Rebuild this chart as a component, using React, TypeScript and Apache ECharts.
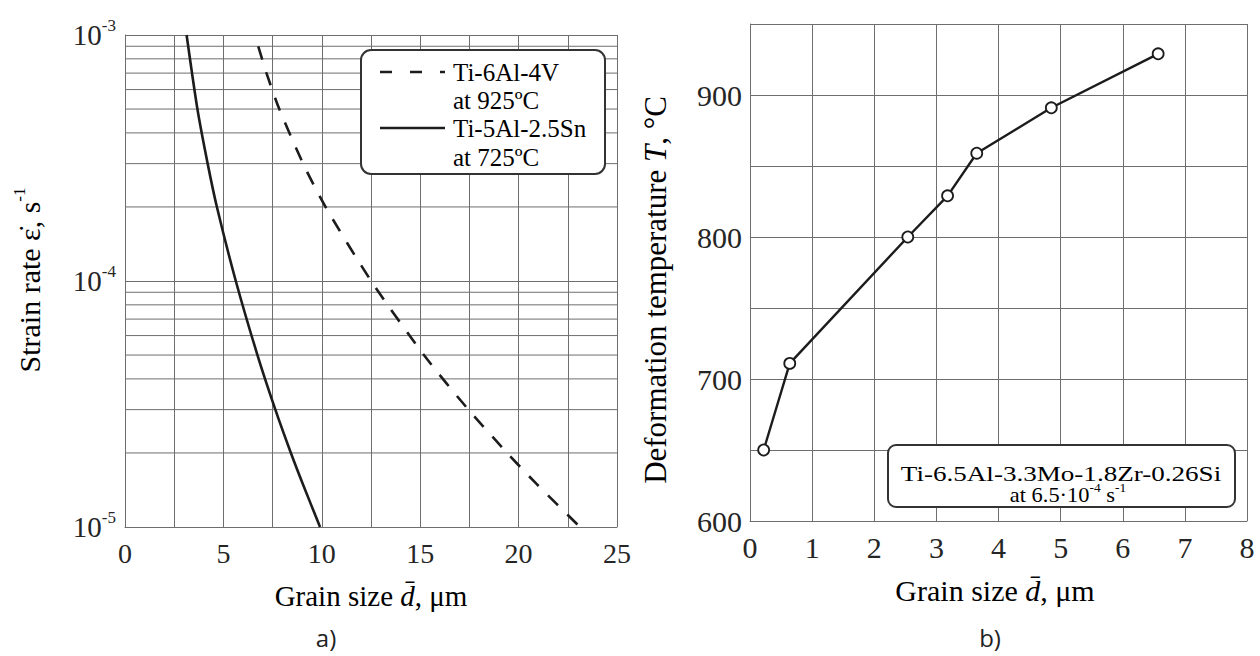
import React, { useEffect, useRef } from "react";
import * as echarts from "echarts";

// ---- data ----
// panel a) strain rate (s^-1) vs grain size (µm)
const ti5Al25SnSize = [3.13, 3.68, 4.2, 4.67, 5.63, 6.73, 7.64, 8.43, 9.03, 9.91];
const ti5Al25SnRate = [1e-3, 5e-4, 3e-4, 2e-4, 1e-4, 5e-5, 3e-5, 2e-5, 1.5e-5, 1e-5];
const ti6Al4VSize = [6.77, 7.19, 7.84, 9.05, 10.19, 12.51, 15.19, 17.45, 19.42, 20.9, 23.12];
const ti6Al4VRate = [9e-4, 7e-4, 5e-4, 3e-4, 2e-4, 1e-4, 5e-5, 3e-5, 2e-5, 1.5e-5, 1e-5];
const minorRateTicks = [
  2e-5, 3e-5, 4e-5, 5e-5, 6e-5, 7e-5, 8e-5, 9e-5,
  2e-4, 3e-4, 4e-4, 5e-4, 6e-4, 7e-4, 8e-4, 9e-4,
];
const sizeRangeA = [0, 25];
// panel b) deformation temperature (°C) vs grain size (µm)
const ti65AlSize = [0.22, 0.64, 2.54, 3.18, 3.65, 4.85, 6.57];
const ti65AlTemp = [650, 711, 800, 829, 859, 891, 929];

const legendA = ["Ti-6Al-4V", "at 925ºC", "Ti-5Al-2.5Sn", "at 725ºC"];
const legendB = "Ti-6.5Al-3.3Mo-1.8Zr-0.26Si";

const SERIF = "'Liberation Serif', 'Times New Roman', 'DejaVu Serif', serif";
const TXT = "#252525";
const GRID = "#6e6e6e";
const INK = "#1c1c1c";

const zip = (a: number[], b: number[]) => a.map((v, i) => [v, b[i]]);

export default function App() {
  const ref = useRef<HTMLDivElement>(null);
  useEffect(() => {
    document.body.style.margin = "0";
    const chart = echarts.init(ref.current!, undefined, { renderer: "svg" });
    const gridLine = { show: true, lineStyle: { color: GRID, width: 1 } };
    const axisLine = { show: true, lineStyle: { color: GRID, width: 1 } };
    const richSup = (size: number, supSize: number) => ({
      b: { fontSize: size, fontFamily: SERIF, color: TXT, lineHeight: size + 8 },
      s: { fontSize: supSize, fontFamily: SERIF, color: TXT, verticalAlign: "top", lineHeight: supSize },
    });
    const titleRich = (size: number) => ({
      n: { fontSize: size, fontFamily: SERIF, color: TXT, lineHeight: size + 6 },
      i: { fontSize: size, fontFamily: SERIF, color: TXT, fontStyle: "italic", lineHeight: size + 6 },
      s: { fontSize: Math.round(size * 0.58), fontFamily: SERIF, color: TXT, verticalAlign: "top", lineHeight: Math.round(size * 0.58) },
    });

    const option: any = {
      animation: false,
      backgroundColor: "#ffffff",
      grid: [
        { left: 125, top: 35, width: 492, height: 492 },
        { left: 750, top: 24, width: 497, height: 497 },
      ],
      xAxis: [
        {
          type: "value", gridIndex: 0, min: 0, max: 25, interval: 2.5,
          axisLine, axisTick: { show: false }, splitLine: gridLine,
          axisLabel: {
            formatter: (v: number) => (v % 5 === 0 ? String(v) : ""),
            fontFamily: SERIF, fontSize: 28, color: TXT, margin: 12,
          },
        },
        {
          type: "value", gridIndex: 1, min: 0, max: 8, interval: 1,
          axisLine, axisTick: { show: false }, splitLine: gridLine,
          axisLabel: { fontFamily: SERIF, fontSize: 30, color: TXT, margin: 11 },
        },
      ],
      yAxis: [
        {
          type: "log", gridIndex: 0, logBase: 10, min: 1e-5, max: 1e-3,
          axisLine, axisTick: { show: false }, splitLine: gridLine,
          axisLabel: {
            formatter: (v: number) => "{b|10}{s|" + Math.round(Math.log10(v)) + "}",
            rich: richSup(29, 17), margin: 9,
          },
        },
        {
          type: "value", gridIndex: 1, min: 600, max: 950, interval: 50,
          axisLine, axisTick: { show: false }, splitLine: gridLine,
          axisLabel: {
            formatter: (v: number) => (v % 100 === 0 ? String(v) : ""),
            fontFamily: SERIF, fontSize: 30, color: TXT, margin: 8,
          },
        },
      ],
      series: [
        ...minorRateTicks.map((v) => ({
          type: "line", xAxisIndex: 0, yAxisIndex: 0, z: 1, silent: true,
          data: sizeRangeA.map((s) => [s, v]), showSymbol: false, symbol: "none",
          lineStyle: { color: GRID, width: 1 }, tooltip: { show: false },
        })),
        {
          name: "Ti-5Al-2.5Sn at 725ºC", type: "line", xAxisIndex: 0, yAxisIndex: 0, z: 3,
          data: zip(ti5Al25SnSize, ti5Al25SnRate), smooth: 0.25, showSymbol: false,
          lineStyle: { color: INK, width: 2.6 },
        },
        {
          name: "Ti-6Al-4V at 925ºC", type: "line", xAxisIndex: 0, yAxisIndex: 0, z: 3,
          data: zip(ti6Al4VSize, ti6Al4VRate), smooth: 0.25, showSymbol: false,
          lineStyle: { color: INK, width: 2.6, type: [14, 13] },
        },
        {
          name: legendB, type: "line", xAxisIndex: 1, yAxisIndex: 1, z: 3,
          data: zip(ti65AlSize, ti65AlTemp), symbol: "circle", symbolSize: 11,
          itemStyle: { color: "#ffffff", borderColor: INK, borderWidth: 1.8 },
          lineStyle: { color: INK, width: 2.4 },
        },
      ],
      graphic: [
        // legend a)
        { type: "rect", z: 100, shape: { x: 361, y: 50, width: 244, height: 124, r: 10 }, style: { fill: "#fff", stroke: "#333", lineWidth: 2 } },
        { type: "line", z: 101, shape: { x1: 380, y1: 72, x2: 445, y2: 72 }, style: { stroke: INK, lineWidth: 2.6, lineDash: [12, 18] } },
        { type: "line", z: 101, shape: { x1: 380, y1: 128, x2: 445, y2: 128 }, style: { stroke: INK, lineWidth: 2.6 } },
        ...legendA.map((t, i) => ({
          type: "text", z: 101, x: 453, y: [72, 100, 128, 157][i],
          style: { text: "{n|" + t + "}", rich: titleRich(25), align: "left", verticalAlign: "middle" },
        })),
        // legend b)
        { type: "rect", z: 100, shape: { x: 888, y: 445, width: 347, height: 62, r: 8 }, style: { fill: "#fff", stroke: "#333", lineWidth: 2 } },
        {
          type: "text", z: 101, x: 1061, y: 474, scaleX: 1.29,
          style: { text: "{n|" + legendB + "}", rich: titleRich(21), align: "center", verticalAlign: "middle" },
        },
        {
          type: "text", z: 101, x: 1068, y: 495, scaleX: 1.12,
          style: {
            text: "{n|at 6.5·10}{s|-4}{n| s}{s|-1}", rich: titleRich(20),
            align: "center", verticalAlign: "middle",
          },
        },
        // axis titles
        {
          type: "text", x: 29, y: 280, rotation: Math.PI / 2,
          style: { text: "{n|Strain rate ε̇, s}{s|-1}", rich: titleRich(30), align: "center", verticalAlign: "middle" },
        },
        {
          type: "text", x: 371, y: 596,
          style: { text: "{n|Grain size }{i|d̄}{n|, μm}", rich: titleRich(29), align: "center", verticalAlign: "middle" },
        },
        {
          type: "text", x: 655, y: 290, rotation: Math.PI / 2,
          style: { text: "{n|Deformation temperature }{i|T}{n|, °C}", rich: titleRich(31), align: "center", verticalAlign: "middle" },
        },
        {
          type: "text", x: 995, y: 590,
          style: { text: "{n|Grain size }{i|d̄}{n|, μm}", rich: titleRich(30), align: "center", verticalAlign: "middle" },
        },
        // panel labels
        { type: "text", x: 326, y: 637, style: { text: "a)", fontSize: 24, fontFamily: "'Open Sans', sans-serif", fill: "#222", align: "center", verticalAlign: "middle" } },
        { type: "text", x: 990, y: 637, style: { text: "b)", fontSize: 24, fontFamily: "'Open Sans', sans-serif", fill: "#222", align: "center", verticalAlign: "middle" } },
      ],
    };
    chart.setOption(option);
    return () => chart.dispose();
  }, []);
  return <div ref={ref} style={{ width: 1260, height: 656 }} />;
}
